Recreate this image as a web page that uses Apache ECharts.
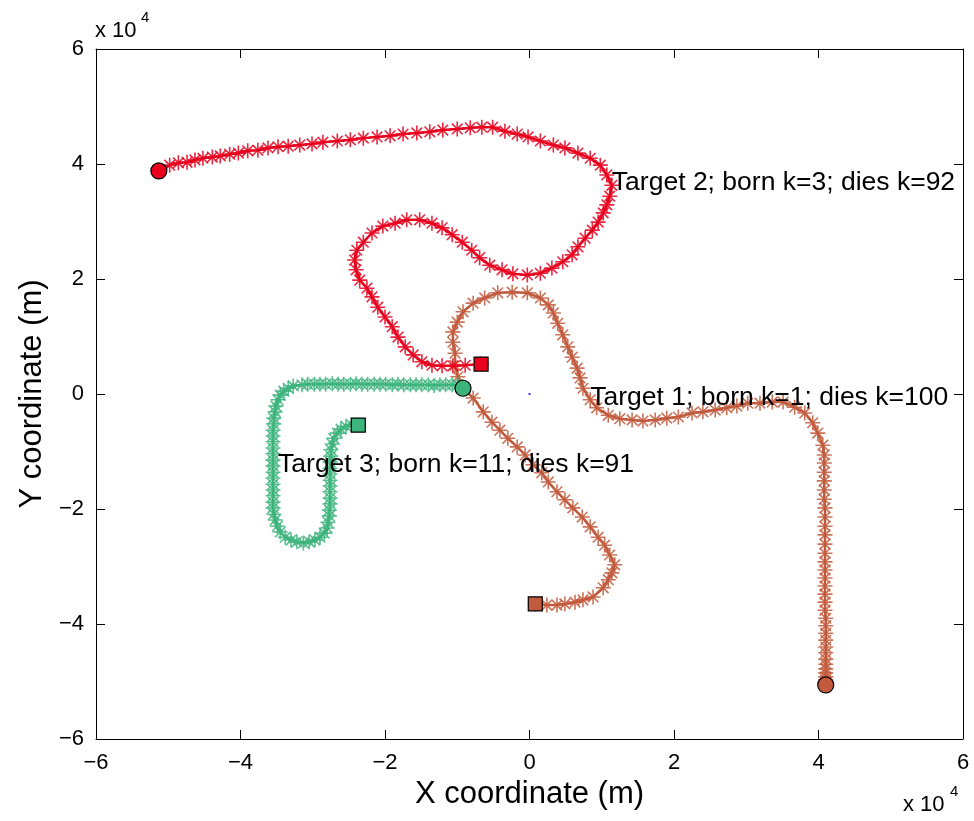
<!DOCTYPE html>
<html><head><meta charset="utf-8">
<script src="https://cdn.jsdelivr.net/npm/echarts@6/dist/echarts.min.js"></script>
<style>html,body{margin:0;padding:0;background:#fff}#c{width:974px;height:821px}</style>
</head><body><div id="c"></div><script>
// Target 1 (born k=1, dies k=100) – metres
const t1x=[41000,41000,41000,41000,41000,41000,41000,41000,41000,41000,41000,41000,41000,41000,40900,40900,40900,40900,40900,40900,40900,40900,40900,40900,40900,40900,40900,40800,40800,40800,40800,40800,40800,
40600,39900,39200,38100,36700,35100,33600,31900,30200,28700,27300,25700,24000,22500,20600,19000,17400,15700,14200,12500,10900,9300,8400,
7400,7000,6600,5900,5300,4600,3900,3300,2600,1500,-300,-2400,-4400,-6200,-7800,-9200,-10000,-10600,-10600,-10300,-10300,-9900,-9300,
-7800,-6400,-5200,-4100,-3000,-1700,-600,500,1700,2600,3800,4900,6000,7300,8400,9500,10400,11100,11800,11400,10900,10200,8800,7400,6300,4900,3800,2400,800];
const t1y=[-50600,-50300,-49700,-49200,-48500,-47800,-47000,-46100,-45000,-44000,-42800,-41600,-40300,-39000,-37600,-36200,-34800,-33400,-32000,-30600,-29200,-27700,-26100,-24500,-23000,-21400,-19800,-18300,-16700,-15100,-13600,-12000,-10600,
-8900,-6800,-5000,-3300,-2300,-1400,-1400,-1600,-1600,-2100,-2400,-2800,-3100,-3300,-4000,-4200,-4500,-4700,-4500,-4300,-3700,-2400,-1000,
1000,2800,4500,6400,8200,10300,12300,14100,15500,16700,17600,17700,17600,16700,15800,14300,12500,10800,9000,7100,5000,3000,1200,
-700,-3100,-4900,-6300,-7700,-9200,-10600,-12300,-13700,-15300,-17000,-18400,-19800,-21400,-23100,-24900,-26300,-28000,-29700,-31100,-32300,-33700,-35300,-35800,-36200,-36500,-36700,-36700,-36500];
// Target 2 (born k=3, dies k=92)
const t2x=[-51300,-49800,-48600,-47400,-46300,-45200,-43900,-42800,-41500,-40300,-39000,-37600,-36200,-34800,-33400,-31800,-30100,-28600,-26600,-24800,-23000,-21100,-19300,-17500,-15600,-13800,-12000,-10000,-8200,-6600,
-5100,-3400,-1700,-200,1500,3300,4900,6700,8400,9800,10700,11400,
11100,10700,10200,9500,8700,7700,6700,5900,4600,3100,1500,-300,-2300,-3800,-5500,-6900,-8000,-9300,-10700,-12100,-13500,-15200,-17000,
-18600,-20300,-21800,-23000,-23900,-24200,-24000,-23500,-22500,-21800,-21000,-20000,-19000,-18200,-17200,-16100,-14900,-13500,-12100,-10600,-8900,-6700];
const t2y=[38800,39800,40200,40300,40700,41000,41200,41400,41700,41900,42300,42400,42800,43000,43100,43300,43500,43800,44000,44200,44500,44700,44900,45200,45400,45600,45900,46100,46300,46400,
46400,45700,45200,44700,44000,43300,42800,41900,41000,39800,38100,36300,
34400,32900,31500,29900,28500,27100,25600,24200,23000,21900,21000,20700,20900,21600,22400,23700,25000,26400,27700,28900,29700,30300,30300,
29700,29200,28000,26400,25000,23300,21600,19800,18400,16900,15100,13400,11700,9900,8200,6800,5600,5000,4900,4900,5000,5200];
// Target 3 (born k=11, dies k=91)
const t3x=[-9200,-9900,-10700,-11600,-12400,-13200,-14000,-14900,-15700,-16500,-17400,-18200,-19000,-19900,-20700,-21500,-22400,-23200,-24000,-24800,-25700,-26500,-27300,-28200,-29000,-29800,-30700,-31500,
-32700,-33400,-34000,-34500,-34800,
-35100,-35200,-35400,-35400,-35500,-35500,-35500,-35500,-35500,-35500,-35500,-35500,-35500,-35500,-35500,-35500,-35500,-35500,-35400,-35200,-34900,
-34500,-33800,-33000,-32200,-31300,-30500,-29700,-29000,-28400,-28000,
-27900,-27700,-27700,-27600,-27600,-27600,-27600,-27600,-27600,-27600,-27600,-27500,-27500,-27300,-27100,
-26600,-26100,-25400,-24600,-23700];
const t3y=[1000,1600,1600,1600,1600,1500,1600,1600,1600,1600,1600,1700,1600,1700,1700,1700,1700,1700,1800,1700,1700,1700,1800,1700,1700,1700,1700,1600,
1400,1000,500,-200,-1000,
-2100,-3100,-4200,-5200,-6300,-7300,-8300,-9400,-10400,-11500,-12500,-13600,-14600,-15700,-16700,-17700,-18800,-19800,-20900,-21900,-23000,
-24000,-24900,-25400,-25700,-25900,-25700,-25400,-24900,-24200,-23300,
-22300,-21200,-20200,-19100,-18100,-17000,-16000,-15000,-13900,-12900,-11800,-10800,-9700,-8700,-7700,
-6800,-6100,-5600,-5400,-5400];
const trackNames=['Target 1; born k=1; dies k=100','Target 2; born k=3; dies k=92','Target 3; born k=11; dies k=91'];
const trackColors=['#c25a3d','#e8001d','#3db47c'];
const labelX=[8400,11400,-34800];
const labelY=[-700,36700,-12300];
const sensorX=[0], sensorY=[0];

const tracks=[[t1x,t1y],[t2x,t2y],[t3x,t3y]];
const star='path://M5,0L5,10M0,5L10,5M1.47,1.47L8.53,8.53M1.47,8.53L8.53,1.47';
const fmt=v=>{const n=Math.round(v/1e4);return n<0?'\u2212'+(-n):String(n);};
const FONT='Liberation Sans, Arial, Helvetica, sans-serif';
const series=[];
tracks.forEach((t,i)=>{
  const d=t[0].map((x,j)=>[x,t[1][j]]);
  series.push({type:'line',data:d,symbol:star,symbolSize:15,showSymbol:true,showAllSymbol:true,
    lineStyle:{color:trackColors[i],width:2.5},
    itemStyle:{color:trackColors[i],borderColor:trackColors[i],borderWidth:1.6,opacity:0.85},
    z:2+i,animation:false,silent:true});
});
tracks.forEach((t,i)=>{
  const n=t[0].length;
  series.push({type:'scatter',data:[[t[0][0],t[1][0]]],symbol:'circle',symbolSize:16,
    itemStyle:{color:trackColors[i],borderColor:'#000',borderWidth:1.2,opacity:1},z:10,animation:false,silent:true});
  series.push({type:'scatter',data:[[t[0][n-1],t[1][n-1]]],symbol:'rect',symbolSize:14,
    itemStyle:{color:trackColors[i],borderColor:'#000',borderWidth:1.2,opacity:1},z:10,animation:false,silent:true});
});
series.push({type:'scatter',data:sensorX.map((x,i)=>[x,sensorY[i]]),symbol:'rect',symbolSize:2,
  itemStyle:{color:'#3040ff',opacity:1},z:9,animation:false,silent:true});
series.push({type:'scatter',data:labelX.map((x,i)=>({value:[x,labelY[i]],name:trackNames[i]})),symbolSize:0,
  itemStyle:{opacity:1},
  label:{show:true,position:'right',distance:0,formatter:p=>p.name,color:'#000',fontSize:26.5,fontFamily:FONT},
  z:20,animation:false,silent:true});

const baseAxis={type:'value',min:-60000,max:60000,interval:20000,
  axisLine:{show:true,onZero:false,lineStyle:{color:'#000',width:1}},
  axisTick:{show:true,inside:true,length:9,lineStyle:{color:'#000',width:1}},
  splitLine:{show:false}};
const chart=echarts.init(document.getElementById('c'),null,{renderer:'canvas'});
chart.setOption({
  animation:false,backgroundColor:'#fff',
  grid:{left:96,right:11,top:49,bottom:82,containLabel:false},
  xAxis:[Object.assign({},baseAxis,{position:'bottom',
      axisLabel:{show:true,margin:13,fontSize:22,color:'#000',fontFamily:FONT,formatter:fmt},
      name:'X coordinate (m)',nameLocation:'middle',nameGap:40,
      nameTextStyle:{fontSize:31,color:'#000',fontFamily:FONT}}),
    Object.assign({},baseAxis,{position:'top',axisLabel:{show:false}})],
  yAxis:[Object.assign({},baseAxis,{position:'left',
      axisLabel:{show:true,margin:12,fontSize:22,color:'#000',fontFamily:FONT,formatter:fmt},
      name:'Y coordinate (m)',nameLocation:'middle',nameGap:48,
      nameTextStyle:{fontSize:31,color:'#000',fontFamily:FONT}}),
    Object.assign({},baseAxis,{position:'right',axisLabel:{show:false}})],
  series:series,
  graphic:[
    {type:'text',left:95,top:20,style:{text:'x 10',font:'22px '+FONT,fill:'#000'}},
    {type:'text',left:141,top:10,style:{text:'4',font:'15px '+FONT,fill:'#000'}},
    {type:'text',left:903,top:794,style:{text:'x 10',font:'22px '+FONT,fill:'#000'}},
    {type:'text',left:950,top:784,style:{text:'4',font:'15px '+FONT,fill:'#000'}}
  ]
});
</script></body></html>
